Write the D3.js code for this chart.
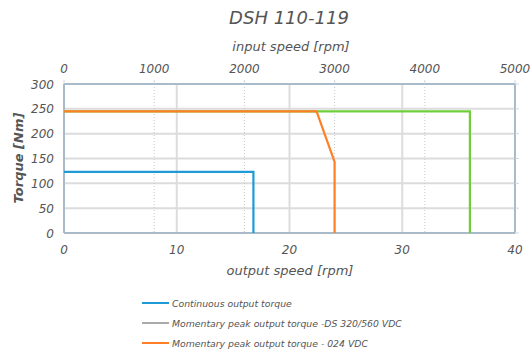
<!DOCTYPE html>
<html><head><meta charset="utf-8">
<script src="https://cdn.jsdelivr.net/npm/d3@7"></script>
<style>body{margin:0;background:#fff}svg text{font-family:"DejaVu Sans",sans-serif;font-style:italic;fill:#555}</style>
</head><body><svg id="c" width="532" height="354"></svg>
<script>
const title = "DSH 110-119";
const xTicks = [0, 10, 20, 30, 40];
const topTicks = [0, 1000, 2000, 3000, 4000, 5000];
const yTicks = [0, 50, 100, 150, 200, 250, 300];
const continuousX = [0, 16.8, 16.8];
const continuousY = [123, 123, 0];
const peakDSX = [0, 22.4, 36, 36];
const peakDSY = [245, 245, 245, 0];
const peak024X = [0, 22.4, 24, 24];
const peak024Y = [245, 245, 143, 0];
const legendLabels = ["Continuous output torque", "Momentary peak output torque -DS 320/560 VDC", "Momentary peak output torque - 024 VDC"];
const legendColors = ["#1e9ad6", "#aaaaaa", "#ff7f27"];
const seriesColors = ["#1e9ad6", "#6fcf3a", "#ff7f27"];

const svg = d3.select("#c");
const L = 64, R = 515, T = 84, B = 233;
const x = d3.scaleLinear().domain([0, 40]).range([L, R]);
const xTop = d3.scaleLinear().domain([0, 5000]).range([L, R]);
const y = d3.scaleLinear().domain([0, 300]).range([B, T]);

// grid
svg.append("g").selectAll("line").data(yTicks.slice(1)).join("line")
  .attr("x1", L).attr("x2", R).attr("y1", d => y(d)).attr("y2", d => y(d))
  .attr("stroke", "#dcdcdc").attr("stroke-width", 2);
svg.append("g").selectAll("line").data(xTicks.slice(1, -1)).join("line")
  .attr("x1", d => x(d)).attr("x2", d => x(d)).attr("y1", T).attr("y2", B)
  .attr("stroke", "#dcdcdc").attr("stroke-width", 2);
svg.append("g").selectAll("line").data(topTicks.slice(1, -1)).join("line")
  .attr("x1", d => xTop(d)).attr("x2", d => xTop(d)).attr("y1", T).attr("y2", B)
  .attr("stroke", "#c8c8c8").attr("stroke-width", 1).attr("stroke-dasharray", "1,2");

// borders
const ax = "#a9bac9";
svg.append("line").attr("x1", L).attr("x2", R).attr("y1", T).attr("y2", T).attr("stroke", ax).attr("stroke-width", 2);
svg.append("line").attr("x1", L).attr("x2", R).attr("y1", B).attr("y2", B).attr("stroke", ax).attr("stroke-width", 2);
svg.append("line").attr("x1", L).attr("x2", L).attr("y1", T).attr("y2", B).attr("stroke", ax).attr("stroke-width", 2);
svg.append("line").attr("x1", R).attr("x2", R).attr("y1", T).attr("y2", B).attr("stroke", ax).attr("stroke-width", 2);
svg.append("g").selectAll("line").data(yTicks).join("line")
  .attr("x1", R).attr("x2", R + 4).attr("y1", d => y(d)).attr("y2", d => y(d))
  .attr("stroke", "#ccd6e0").attr("stroke-width", 1);
svg.append("g").selectAll("line").data(topTicks).join("line")
  .attr("x1", d => xTop(d)).attr("x2", d => xTop(d)).attr("y1", T - 4).attr("y2", T)
  .attr("stroke", "#ccd6e0").attr("stroke-width", 1);

// series
const line = d3.line().x(d => x(d[0])).y(d => y(d[1]));
const series = [
  d3.zip(peakDSX, peakDSY),
  d3.zip(continuousX, continuousY),
  d3.zip(peak024X, peak024Y)
];
const sc = [seriesColors[1], seriesColors[0], seriesColors[2]];
series.forEach((s, i) => {
  svg.append("path").attr("d", line(s)).attr("fill", "none")
    .attr("stroke", sc[i]).attr("stroke-width", 2.2).attr("stroke-linejoin", "miter");
});

// labels
svg.append("text").attr("x", 289).attr("y", 24).attr("text-anchor", "middle").attr("font-size", 18).text(title);
svg.append("text").attr("x", 291).attr("y", 51).attr("text-anchor", "middle").attr("font-size", 13).text("input speed [rpm]");
svg.append("g").selectAll("text").data(topTicks).join("text")
  .attr("x", d => xTop(d)).attr("y", 73).attr("text-anchor", "middle").attr("font-size", 12).text(d => d);
svg.append("g").selectAll("text").data(yTicks).join("text")
  .attr("x", 54).attr("y", d => y(d) + 4.5).attr("text-anchor", "end").attr("font-size", 12).text(d => d);
svg.append("g").selectAll("text").data(xTicks).join("text")
  .attr("x", d => x(d)).attr("y", 254).attr("text-anchor", "middle").attr("font-size", 12).text(d => d);
svg.append("text").attr("x", 290).attr("y", 275).attr("text-anchor", "middle").attr("font-size", 13).text("output speed [rpm]");
svg.append("text").attr("transform", "translate(23,158) rotate(-90)").attr("text-anchor", "middle").attr("font-size", 13).attr("font-weight", "bold").text("Torque [Nm]");

// legend
legendLabels.forEach((t, i) => {
  const yy = 303 + i * 20;
  svg.append("line").attr("x1", 142).attr("x2", 169).attr("y1", yy).attr("y2", yy).attr("stroke", legendColors[i]).attr("stroke-width", 2);
  svg.append("text").attr("x", 172).attr("y", yy + 3.5).attr("font-size", 9.3).text(t);
});
</script></body></html>
